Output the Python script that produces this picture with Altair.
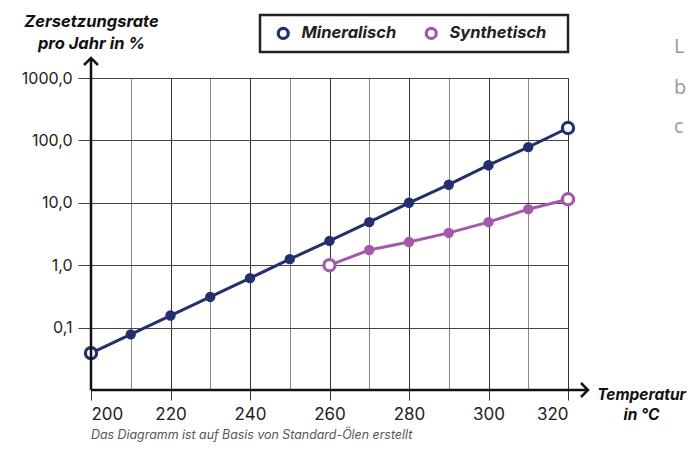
import altair as alt
import pandas as pd

# ---- data ----
temps_mineral = [200, 210, 220, 230, 240, 250, 260, 270, 280, 290, 300, 310, 320]
rate_mineral = [0.039, 0.078, 0.156, 0.31, 0.62, 1.25, 2.45, 4.9, 10.0, 19.5, 40.0, 78.0, 158.0]
temps_synth = [260, 270, 280, 290, 300, 310, 320]
rate_synth = [1.0, 1.75, 2.35, 3.3, 4.9, 7.9, 11.4]

series_names = ["Mineralisch", "Synthetisch"]
series_colors = ["#232f6e", "#a35aaa"]

x_ticks = list(range(200, 321, 10))
y_ticks = [0.1, 1, 10, 100, 1000]
y_title = ["Zersetzungsrate", "pro Jahr in %"]
x_title = ["Temperatur", "in °C"]
footnote = "Das Diagramm ist auf Basis von Standard-Ölen erstellt"
side_letters = ["L", "b", "c"]

FONT = "Inter"
W, H = 477, 312

rows = []
for name, temps, vals in [("Mineralisch", temps_mineral, rate_mineral),
                          ("Synthetisch", temps_synth, rate_synth)]:
    for i, (t, v) in enumerate(zip(temps, vals)):
        rows.append({"temp": t, "rate": v, "series": name,
                     "end": i == 0 or i == len(temps) - 1})
df = pd.DataFrame(rows)

color_scale = alt.Scale(domain=series_names, range=series_colors)

legend = alt.Legend(
    title=None, orient="none", direction="horizontal",
    legendX=184, legendY=-53, padding=0,
    symbolType="circle", symbolSize=100, symbolStrokeWidth=3.2,
    symbolOpacity=1, symbolFillColor="white",
    labelFont=FONT, labelFontSize=16.5, labelFontStyle="italic",
    labelFontWeight="bold", labelColor="#222", labelOffset=10,
    columnPadding=22,
)
color_enc = alt.Color("series:N", scale=color_scale, legend=legend)

x_enc = alt.X(
    "temp:Q",
    scale=alt.Scale(domain=[200, 320], nice=False, zero=False),
    axis=alt.Axis(
        values=x_ticks,
        labelExpr="datum.value % 20 === 0 ? datum.label : ''",
        domain=False,
        grid=True,
        gridColor={"condition": {"test": "datum.value % 20 === 0", "value": "#333"}, "value": "#8a8a8a"},
        gridWidth=1,
        tickColor={"condition": {"test": "datum.value % 20 === 0", "value": "#333"}, "value": "transparent"},
        tickSize=10,
        tickWidth=1,
        labelFont=FONT,
        labelFontSize=17,
        labelColor="#222",
        labelPadding=6,
        title=x_title,
        titleFont=FONT,
        titleFontSize=15.5,
        titleFontStyle="italic",
        titleFontWeight="bold",
        titleColor="#111",
        titleAngle=0,
        titleAlign="center",
        titleBaseline="top",
        titleX=550,
        titleY=-3,
        titleLineHeight=20,
    ),
)

y_enc = alt.Y(
    "rate:Q",
    scale=alt.Scale(type="log", domain=[0.01, 1000], nice=False),
    axis=alt.Axis(
        values=y_ticks,
        labelExpr="replace(format(datum.value, '.1f'), '.', ',')",
        domain=False,
        grid=True,
        gridColor="#444",
        gridWidth=1,
        tickColor="#444",
        tickSize=13,
        tickWidth=1,
        labelFont=FONT,
        labelFontSize=16,
        labelColor="#222",
        labelPadding=6,
        title=y_title,
        titleFont=FONT,
        titleFontSize=16.5,
        titleFontStyle="italic",
        titleFontWeight="bold",
        titleColor="#111",
        titleAngle=0,
        titleAlign="center",
        titleBaseline="middle",
        titleX=0,
        titleY=-57,
        titleLineHeight=22,
    ),
)

base = alt.Chart(df)

lines = base.mark_line(strokeWidth=3).encode(
    x=x_enc, y=y_enc, color=color_enc, detail="series:N",
)

# solid dots drawn as a thick-stroked small circle so every layer is stroke-coloured
dots = base.transform_filter("!datum.end").mark_point(
    shape="circle", filled=False, size=25, strokeWidth=5.4, opacity=1
).encode(
    x=x_enc, y=y_enc, color=color_enc,
)

ends = base.transform_filter("datum.end").mark_point(
    shape="circle", fill="white", filled=False, strokeWidth=3.2, size=125, opacity=1
).encode(
    x=x_enc, y=y_enc, color=color_enc,
)

one = pd.DataFrame({"k": [0]})
deco = alt.Chart(one)

legend_box = deco.mark_rect(fill="white", stroke="#222", strokeWidth=2.5).encode(
    x=alt.value(169), x2=alt.value(477), y=alt.value(-63), y2=alt.value(-26)
)

x_axis_line = deco.mark_rule(color="#111", strokeWidth=2.5).encode(
    x=alt.value(0), x2=alt.value(497), y=alt.value(H)
)
y_axis_line = deco.mark_rule(color="#111", strokeWidth=2.5).encode(
    x=alt.value(0), y=alt.value(H), y2=alt.value(-20)
)
x_arrow = deco.mark_point(shape="M-1,-1L0,0L-1,1", filled=False, stroke="#111",
                          strokeWidth=2.5, size=196, opacity=1).encode(
    x=alt.value(497), y=alt.value(H)
)
y_arrow = deco.mark_point(shape="M-1,1L0,0L1,1", filled=False, stroke="#111",
                          strokeWidth=2.5, size=196, opacity=1).encode(
    x=alt.value(0), y=alt.value(-20)
)

letter_marks = []
for letter, yy in zip(side_letters, [-31, 10, 49]):
    letter_marks.append(
        deco.mark_text(text=letter, font="Open Sans", fontSize=20, color="#9a9a9a",
                       align="left", baseline="middle").encode(
            x=alt.value(583), y=alt.value(yy)
        )
    )

chart = alt.layer(
    legend_box, lines, dots, ends, x_axis_line, y_axis_line, x_arrow, y_arrow,
    *letter_marks,
).properties(
    width=W, height=H,
    autosize=alt.AutoSizeParams(type="none"),
    padding={"left": 83, "top": 70, "right": 119, "bottom": 53},
    title=alt.TitleParams(
        footnote, orient="bottom", anchor="start", frame="group",
        font=FONT, fontSize=12.4, fontStyle="italic", fontWeight="normal",
        color="#555", offset=6,
    ),
).configure_view(stroke=None).configure(background="white")

chart.save("out.html", embed_options={"renderer": "svg", "actions": False})
